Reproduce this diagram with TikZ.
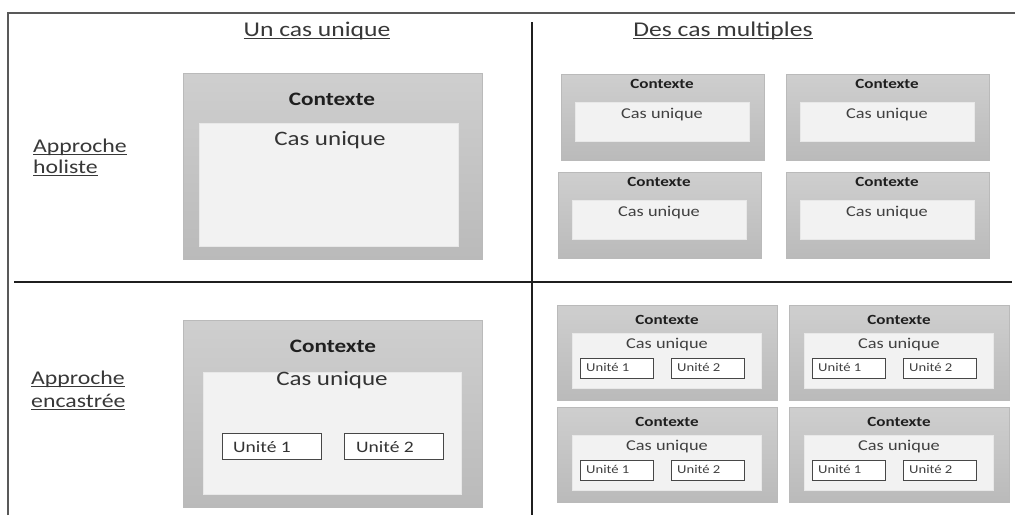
\documentclass[tikz,border=0pt]{standalone}
\usepackage{fontspec}
\setmainfont{Carlito}[FakeStretch=1.22]
\newlength\ulwd
\newcommand\ulx[1]{\settowidth\ulwd{#1}\rlap{#1}\rule[-2.8pt]{\ulwd}{1pt}}
\tikzset{
  outerbox/.style={rectangle, draw=black!27, line width=0.6pt, top color=black!19, bottom color=black!27, inner sep=0pt, outer sep=0pt},
  innerbox/.style={rectangle, fill=black!5, draw=black!9, line width=0.4pt, inner sep=0pt, outer sep=0pt},
  unitbox/.style={rectangle, fill=white, draw=black!72, line width=1pt, inner sep=0pt, outer sep=0pt},
  frameline/.style={draw=black!65, line width=2pt},
  divline/.style={draw=black!88, line width=1.8pt},
  title/.style={font=\fontsize{21}{25}\selectfont, text=black!78, inner sep=0pt, anchor=base},
  rowlab/.style={font=\fontsize{19.5}{23}\selectfont, text=black!78, inner sep=0pt, anchor=base west},
  bigctx/.style={font=\bfseries\fontsize{19}{23}\selectfont, text=black!88, inner sep=0pt, anchor=base},
  bigcas/.style={font=\fontsize{20.5}{24}\selectfont, text=black!80, inner sep=0pt, anchor=base},
  bigunit/.style={font=\fontsize{16}{19}\selectfont, text=black!80, inner sep=0pt, anchor=base west},
  smctx/.style={font=\bfseries\fontsize{14}{17}\selectfont, text=black!88, inner sep=0pt, anchor=base},
  smcas/.style={font=\fontsize{15}{18}\selectfont, text=black!75, inner sep=0pt, anchor=base},
  smunit/.style={font=\fontsize{12}{14}\selectfont, text=black!75, inner sep=0pt, anchor=base west}
}
% box from (x1,y1) to (x2,y2) in pixel coordinates
\newcommand\bx[6]{\node[#1, minimum width={((#5)-(#3))*1pt}, minimum height={((#6)-(#4))*1pt}, anchor=north west] (#2) at ({#3},{#4}) {};}
% holistic multiple-case box at (x0,y0)
\newcommand\holbox[3]{%
  \bx{outerbox}{#1-o}{#2}{#3}{#2+203}{#3+86}
  \bx{innerbox}{#1-i}{#2+14}{#3+28}{#2+188}{#3+67}
  \node[smctx] (#1-c) at (#2+101,#3+14) {Contexte};
  \node[smcas] (#1-u) at (#2+101,#3+44) {Cas unique};
}
% embedded multiple-case box at (x0,y0)
\newcommand\embbox[3]{%
  \bx{outerbox}{#1-o}{#2}{#3}{#2+220}{#3+95}
  \bx{innerbox}{#1-i}{#2+15}{#3+28}{#2+204}{#3+83}
  \node[smctx] (#1-c) at (#2+110,#3+19) {Contexte};
  \node[smcas] (#1-u) at (#2+110,#3+43) {Cas unique};
  \bx{unitbox}{#1-a}{#2+23}{#3+53}{#2+96}{#3+73}
  \bx{unitbox}{#1-b}{#2+114}{#3+53}{#2+187}{#3+73}
  \node[smunit] (#1-at) at (#2+29,#3+66) {Unité 1};
  \node[smunit] (#1-bt) at (#2+120,#3+66) {Unité 2};
}
\begin{document}
\begin{tikzpicture}[x=1pt, y=-1pt]
\useasboundingbox (0,0) rectangle (1015,515);
% frame
\coordinate (fbl) at (8,515);
\coordinate (ftl) at (8,13);
\coordinate (ftr) at (1015,13);
\draw[frameline] (fbl) -- (ftl) -- (ftr);
% dividers
\coordinate (vt) at (532,22);
\coordinate (vb) at (532,515);
\coordinate (hl) at (14,282);
\coordinate (hr) at (1012,282);
\draw[divline] (vt) -- (vb);
\draw[divline] (hl) -- (hr);
% titles
\node[title] (t1) at (317,36) {\ulx{Un cas unique}};
\node[title] (t2) at (723,36) {\ulx{Des cas multiples}};
% row labels
\node[rowlab] (r1a) at (33,152) {\ulx{Approche}};
\node[rowlab] (r1b) at (33,173) {\ulx{holiste}};
\node[rowlab] (r2a) at (31,384) {\ulx{Approche}};
\node[rowlab] (r2b) at (31,407) {\ulx{encastrée}};
% single holistic
\bx{outerbox}{sh-o}{183}{73}{482}{259}
\bx{innerbox}{sh-i}{199}{123}{458}{246}
\node[bigctx] (sh-c) at (332,105) {Contexte};
\node[bigcas] (sh-u) at (330,145) {Cas unique};
% single embedded
\bx{outerbox}{se-o}{183}{320}{482}{507}
\bx{innerbox}{se-i}{203}{372}{461}{494}
\node[bigctx] (se-c) at (333,352) {Contexte};
\node[bigcas] (se-u) at (332,385) {Cas unique};
\bx{unitbox}{se-a}{222}{433}{321}{459}
\bx{unitbox}{se-b}{344}{433}{443}{459}
\node[bigunit] (se-at) at (233,452) {Unité 1};
\node[bigunit] (se-bt) at (356,452) {Unité 2};
% multiple holistic
\holbox{mh1}{561}{74}
\holbox{mh2}{786}{74}
\holbox{mh3}{558}{172}
\holbox{mh4}{786}{172}
% multiple embedded
\embbox{me1}{557}{305}
\embbox{me2}{789}{305}
\embbox{me3}{557}{407}
\embbox{me4}{789}{407}
\end{tikzpicture}
\end{document}
